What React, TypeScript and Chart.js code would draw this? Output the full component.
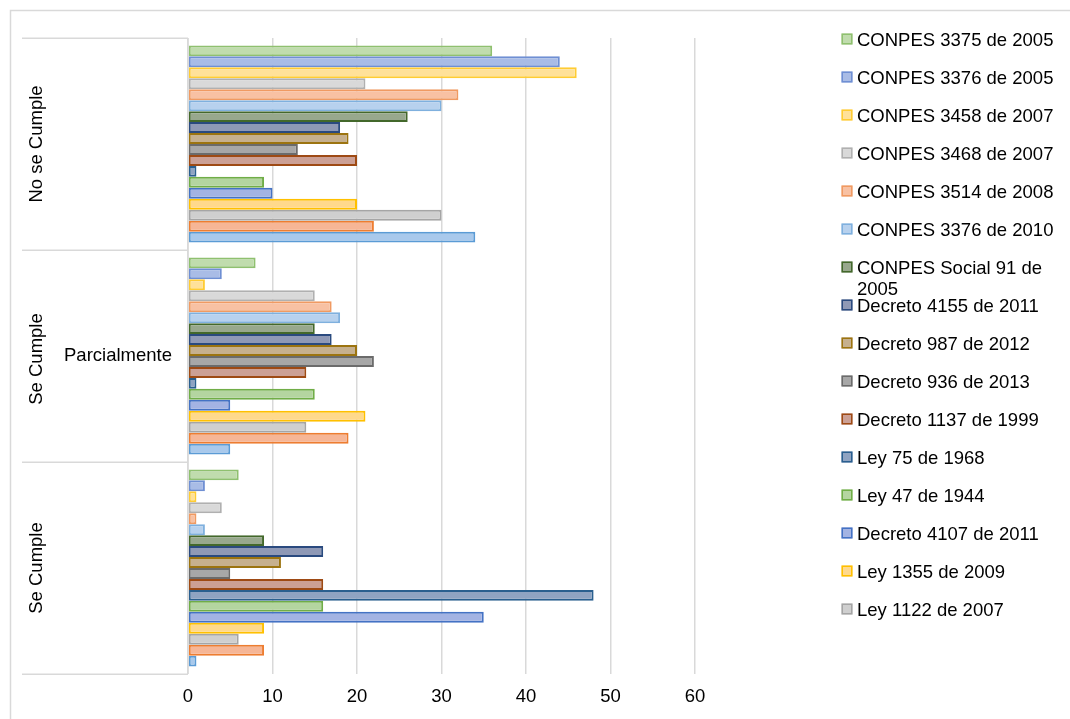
import React, { useEffect, useRef } from "react";
import { Chart, registerables } from "chart.js";

Chart.register(...registerables);

// ---- data ----
const categories = ["No se Cumple", "Se Cumple Parcialmente", "Se Cumple"];
const seriesNames = [
  "CONPES 3375 de 2005",
  "CONPES 3376 de 2005",
  "CONPES 3458 de 2007",
  "CONPES 3468 de 2007",
  "CONPES 3514 de 2008",
  "CONPES 3376 de 2010",
  "CONPES Social 91 de 2005",
  "Decreto 4155 de 2011",
  "Decreto 987 de 2012",
  "Decreto 936 de 2013",
  "Decreto 1137 de 1999",
  "Ley 75 de 1968",
  "Ley 47 de 1944",
  "Decreto 4107 de 2011",
  "Ley 1355 de 2009",
  "Ley 1122 de 2007",
  "Serie 17",
  "Serie 18",
];
const noSeCumple = [36, 44, 46, 21, 32, 30, 26, 18, 19, 13, 20, 1, 9, 10, 20, 30, 22, 34];
const seCumpleParcialmente = [8, 4, 2, 15, 17, 18, 15, 17, 20, 22, 14, 1, 15, 5, 21, 14, 19, 5];
const seCumple = [6, 2, 1, 4, 1, 2, 9, 16, 11, 5, 16, 48, 16, 35, 9, 6, 9, 1];
const xTicks = [0, 10, 20, 30, 40, 50, 60];
const legendShown = 16;

// ---- styles ----
const fills = [
  "#c0dcad", "#a9bce6", "#ffe199", "#d9d9d9", "#f8c1a3", "#b7d1ee",
  "#98a88d", "#8f99b6", "#c6b08e", "#a7a7a7", "#cca095", "#8fa3c2",
  "#b4d5a0", "#a3b3e3", "#ffd98c", "#cfcfcf", "#f6b696", "#a9c9ec",
];
const borders = [
  "#8fc06f", "#6f8fd3", "#ffcc33", "#b0b0b0", "#f09a62", "#7fb0de",
  "#43682b", "#2a4a7f", "#9c7410", "#6b6b6b", "#9e4a14", "#2a5f8f",
  "#70ad47", "#4472c4", "#ffc000", "#a5a5a5", "#ed7d31", "#5b9bd5",
];
const FONT_FAMILY = '"Liberation Sans", Arial, sans-serif';
const FONT_SIZE = 18.5;
const LINE = "#d9d9d9";

const decorPlugin = {
  id: "decor",
  beforeDraw(chart: any) {
    const ctx = chart.ctx;
    ctx.save();
    ctx.fillStyle = "#ffffff";
    ctx.fillRect(0, 0, chart.width, chart.height);
    ctx.strokeStyle = LINE;
    ctx.lineWidth = 1.5;
    ctx.strokeRect(10.5, 10.5, chart.width + 20, chart.height + 20);
    ctx.restore();
  },
  afterDraw(chart: any) {
    const ctx = chart.ctx;
    const area = chart.chartArea;
    const yScale = chart.scales.y;
    const n = categories.length;
    const band = (area.bottom - area.top) / n;
    ctx.save();
    // separators
    ctx.strokeStyle = LINE;
    ctx.lineWidth = 1.5;
    ctx.beginPath();
    for (let i = 0; i <= n; i++) {
      const y = Math.round(area.top + i * band) + 0.25;
      ctx.moveTo(22, y);
      ctx.lineTo(area.left, y);
    }
    ctx.moveTo(area.left, area.top);
    ctx.lineTo(area.left, area.bottom);
    ctx.stroke();

    // category labels
    ctx.fillStyle = "#000";
    ctx.font = `${FONT_SIZE}px ${FONT_FAMILY}`;
    const outer = ["No se Cumple", "Se Cumple", "Se Cumple"];
    const offs = [0, 3, 0];
    for (let i = 0; i < n; i++) {
      const cy = yScale.getPixelForValue(i) + offs[i];
      ctx.save();
      ctx.translate(42, cy);
      ctx.rotate(-Math.PI / 2);
      ctx.textAlign = "center";
      ctx.textBaseline = "alphabetic";
      ctx.fillText(outer[i], 0, 0);
      ctx.restore();
    }
    ctx.textAlign = "center";
    ctx.textBaseline = "alphabetic";
    ctx.fillText("Parcialmente", 118, yScale.getPixelForValue(1) + 5);

    // legend
    ctx.textAlign = "left";
    for (let i = 0; i < legendShown; i++) {
      const cy = 39 + i * 38;
      ctx.fillStyle = fills[i];
      ctx.fillRect(841.5, cy - 5.5, 11, 11);
      ctx.strokeStyle = borders[i];
      ctx.lineWidth = 1.5;
      ctx.strokeRect(842.25, cy - 4.75, 9.5, 9.5);
      ctx.fillStyle = "#000";
      const name = seriesNames[i];
      if (name === "CONPES Social 91 de 2005") {
        ctx.fillText("CONPES Social 91 de", 857, cy + 7);
        ctx.fillText("2005", 857, cy + 28);
      } else {
        ctx.fillText(name, 857, cy + 7);
      }
    }
    ctx.restore();
  },
};

export default function App() {
  const ref = useRef<HTMLCanvasElement>(null);
  useEffect(() => {
    if (!ref.current) return;
    const datasets = seriesNames.map((name, i) => ({
      label: name,
      data: [noSeCumple[i], seCumpleParcialmente[i], seCumple[i]],
      backgroundColor: fills[i],
      borderColor: borders[i],
      borderWidth: 2,
      borderSkipped: false,
      categoryPercentage: 0.93,
      barPercentage: 1,
    }));
    const chart = new Chart(ref.current, {
      type: "bar",
      data: { labels: categories, datasets },
      plugins: [decorPlugin],
      options: {
        indexAxis: "y",
        responsive: false,
        animation: false,
        layout: { padding: { left: 188, right: 375, top: 38, bottom: 0 } },
        plugins: { legend: { display: false }, tooltip: { enabled: false } },
        scales: {
          x: {
            type: "linear",
            min: 0,
            max: 60,
            afterBuildTicks: (scale: any) => {
              scale.ticks = xTicks.map((v) => ({ value: v }));
            },
            afterFit: (scale: any) => {
              scale.height = 45;
            },
            grid: { color: LINE, lineWidth: 1.5, drawTicks: false },
            border: { display: false },
            ticks: {
              padding: 12,
              color: "#000",
              font: { family: FONT_FAMILY, size: FONT_SIZE },
            },
          },
          y: { type: "category", display: false, grid: { display: false } },
        },
      },
    } as any);
    return () => chart.destroy();
  }, []);
  return (
    <div style={{ position: "absolute", left: 0, top: 0, width: 1070, height: 719 }}>
      <canvas ref={ref} width={1070} height={719} style={{ display: "block" }} />
    </div>
  );
}
